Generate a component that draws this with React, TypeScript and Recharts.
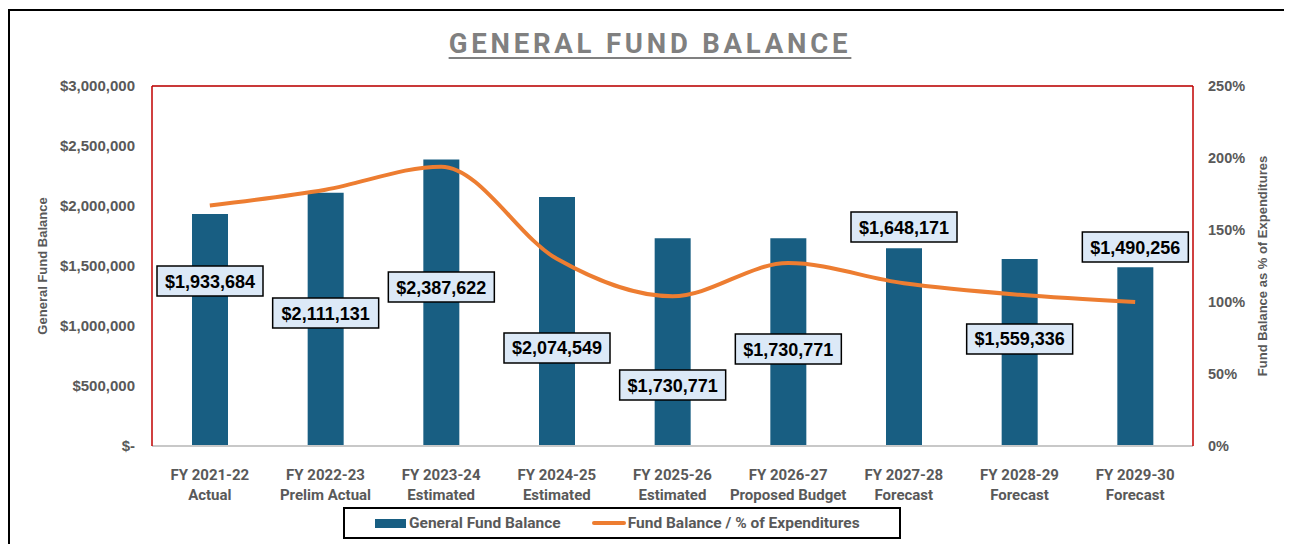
import React from 'react';
import { Bar, ComposedChart, Line, XAxis, YAxis, CartesianGrid, LabelList, ReferenceLine } from 'recharts';

const years = ['FY 2021-22', 'FY 2022-23', 'FY 2023-24', 'FY 2024-25', 'FY 2025-26', 'FY 2026-27', 'FY 2027-28', 'FY 2028-29', 'FY 2029-30'];
const stages = ['Actual', 'Prelim Actual', 'Estimated', 'Estimated', 'Estimated', 'Proposed Budget', 'Forecast', 'Forecast', 'Forecast'];
const fundBalance = [1933684, 2111131, 2387622, 2074549, 1730771, 1730771, 1648171, 1559336, 1490256];
const pctOfExpenditures = [167, 178, 194, 130, 104, 127, 113, 105, 100];

const balanceTicks = [0, 500000, 1000000, 1500000, 2000000, 2500000, 3000000];
const pctTicks = [0, 50, 100, 150, 200, 250];

// where each value box sits, in left-axis dollars (hand placed like the original)
const labelAnchors = [1375000, 1108333, 1325000, 816667, 508333, 808333, 1825000, 891667, 1658333];

const BAR = '#185e82';
const ORANGE = '#ed7d31';
const RED = '#c00000';
const GREY = '#595959';
const NARROW = '"Liberation Sans Narrow", "Roboto", sans-serif';
const ARIAL = '"Liberation Sans", Arial, sans-serif';

const data = years.map((y, i) => ({
  year: y,
  stage: stages[i],
  balance: fundBalance[i],
  pct: pctOfExpenditures[i],
}));

const money = (v: number) => (v === 0 ? '$-' : '$' + v.toLocaleString('en-US'));

const CategoryTick = (props: any) => {
  const { x, y, payload, index } = props;
  return (
    <text x={x} textAnchor="middle" fill={GREY} fontFamily={NARROW} fontWeight={700} fontSize={15}>
      <tspan x={x} y={y + 26}>{payload.value}</tspan>
      <tspan x={x} y={y + 46}>{stages[index]}</tspan>
    </text>
  );
};

const ValueBox = (props: any) => {
  const { x, y, width, height, value, index } = props;
  const perDollar = height / value;
  const cy = y + height - labelAnchors[index] * perDollar;
  const cx = x + width / 2;
  const w = 106;
  const h = 30;
  return (
    <g>
      <rect x={cx - w / 2} y={cy - h / 2} width={w} height={h} fill="#dce9f7" stroke="#000" strokeWidth={1.5} />
      <text x={cx} y={cy + 6.5} textAnchor="middle" fontFamily={ARIAL} fontWeight={700} fontSize={18} fill="#000">
        {money(value)}
      </text>
    </g>
  );
};

export default function App() {
  return (
    <div style={{ position: 'relative', width: 1284, height: 536, overflow: 'hidden' }}>
      <style>{'html, body { overflow: hidden; }'}</style>
      <div
        style={{
          position: 'absolute',
          left: 0,
          top: 1,
          width: 1300,
          height: 560,
          borderTop: '2px solid #000',
          borderLeft: '2px solid #000',
          background: '#fff',
        }}
      >
        <div
          style={{
            position: 'absolute',
            left: 0,
            top: 16,
            width: 1280,
            textAlign: 'center',
            fontFamily: '"Roboto", "Liberation Sans", sans-serif',
            fontWeight: 700,
            fontSize: 27.5,
            letterSpacing: 3.8,
            color: '#808080',
            textDecoration: 'underline',
            textDecorationThickness: 2,
            textUnderlineOffset: 4,
          }}
        >
          GENERAL FUND BALANCE
        </div>

        <div
          style={{
            position: 'absolute',
            left: 32,
            top: 255,
            transform: 'translate(-50%, -50%) rotate(-90deg)',
            whiteSpace: 'nowrap',
            fontFamily: ARIAL,
            fontWeight: 700,
            fontSize: 13,
            color: GREY,
          }}
        >
          General Fund Balance
        </div>
        <div
          style={{
            position: 'absolute',
            left: 1252,
            top: 255,
            transform: 'translate(-50%, -50%) rotate(-90deg)',
            whiteSpace: 'nowrap',
            fontFamily: ARIAL,
            fontWeight: 700,
            fontSize: 13,
            color: GREY,
          }}
        >
          Fund Balance as % of Expenditures
        </div>

        <ComposedChart
          width={1280}
          height={540}
          data={data}
          margin={{ top: 75, right: 17, bottom: 45, left: 42 }}
          barCategoryGap={0}
        >
          <CartesianGrid vertical={false} stroke="#d9d9d9" strokeWidth={1.5} />
          <XAxis
            dataKey="year"
            height={60}
            axisLine={{ stroke: '#c8c8c8', strokeWidth: 2 }}
            tickLine={false}
            interval={0}
            tick={<CategoryTick />}
          />
          <YAxis
            yAxisId="left"
            width={100}
            domain={[0, 3000000]}
            ticks={balanceTicks}
            tickFormatter={money}
            axisLine={{ stroke: RED, strokeWidth: 1.5 }}
            tickLine={false}
            tickSize={0}
            tickMargin={17}
            tick={{ fill: GREY, fontFamily: ARIAL, fontWeight: 700, fontSize: 15 }}
          />
          <YAxis
            yAxisId="right"
            orientation="right"
            width={80}
            domain={[0, 250]}
            ticks={pctTicks}
            tickFormatter={(v: number) => v + '%'}
            axisLine={{ stroke: RED, strokeWidth: 1.5 }}
            tickLine={false}
            tickSize={0}
            tickMargin={15}
            tick={{ fill: GREY, fontFamily: ARIAL, fontWeight: 700, fontSize: 14.5, textAnchor: 'start' }}
          />
          <ReferenceLine yAxisId="left" y={3000000} stroke={RED} strokeWidth={1.5} />
          <Bar yAxisId="left" dataKey="balance" fill={BAR} barSize={36} isAnimationActive={false}>
            <LabelList dataKey="balance" content={<ValueBox />} />
          </Bar>
          <Line
            yAxisId="right"
            type="monotone"
            dataKey="pct"
            stroke={ORANGE}
            strokeWidth={4}
            dot={false}
            activeDot={false}
            isAnimationActive={false}
          />
        </ComposedChart>

        <div
          style={{
            position: 'absolute',
            left: 333,
            top: 496,
            width: 554,
            height: 28,
            border: '2px solid #000',
            display: 'flex',
            alignItems: 'center',
            fontFamily: NARROW,
            fontWeight: 700,
            fontSize: 15.5,
            color: GREY,
          }}
        >
          <span style={{ width: 31, height: 9, background: BAR, marginLeft: 30, marginRight: 3 }} />
          <span>General Fund Balance</span>
          <span style={{ width: 34, height: 4, background: ORANGE, borderRadius: 2, marginLeft: 31, marginRight: 2 }} />
          <span>Fund Balance / % of Expenditures</span>
        </div>
      </div>
    </div>
  );
}
